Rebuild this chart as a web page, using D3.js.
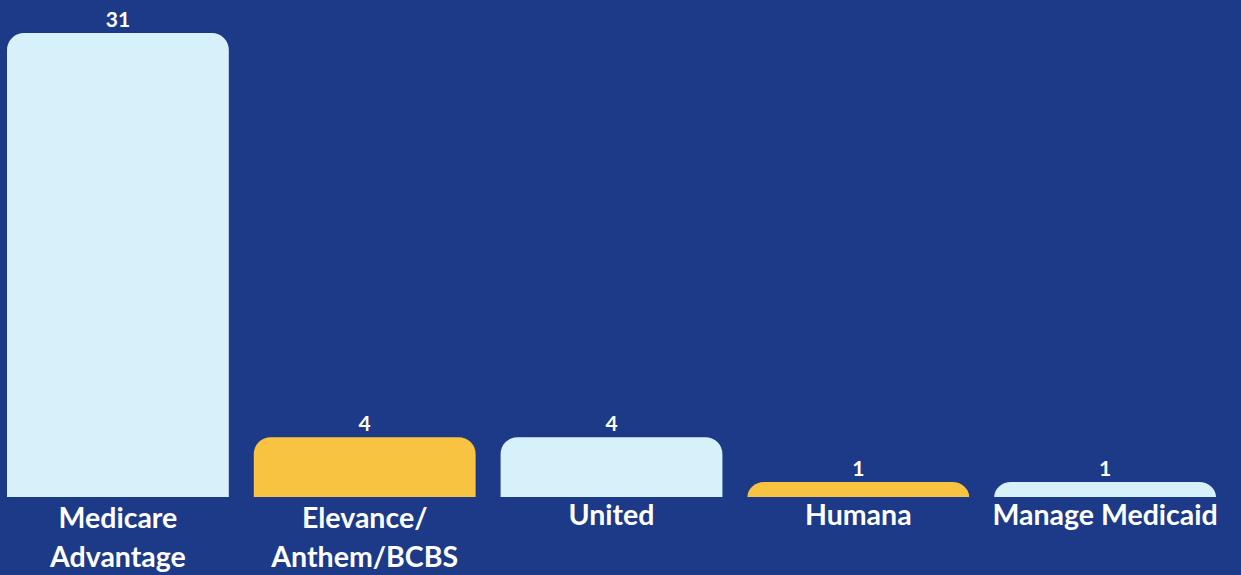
<!DOCTYPE html>
<html>
<head>
<meta charset="utf-8">
<script src="https://cdn.jsdelivr.net/npm/d3@7"></script>
<style>
  html, body { margin: 0; padding: 0; background: #1c3a87; }
  svg { display: block; }
  text { font-family: Lato, "Open Sans", sans-serif; font-weight: 700; fill: #ffffff; }
</style>
</head>
<body>
<div class="container"></div>
<script>
const categories = ["Medicare Advantage", "Elevance/ Anthem/BCBS", "United", "Humana", "Manage Medicaid"];
const labelLines = [["Medicare", "Advantage"], ["Elevance/", "Anthem/BCBS"], ["United"], ["Humana"], ["Manage Medicaid"]];
const values = [31, 4, 4, 1, 1];
const barColors = ["#d7f1fa", "#f8c341", "#d7f1fa", "#f8c341", "#d7f1fa"];

const w = 1241;
const h = 575;
const baseY = 497;
const topY = 33;
const r = 17;

const svg = d3.select(".container")
  .append("svg")
  .attr("width", w)
  .attr("height", h);

svg.append("rect")
  .attr("width", w)
  .attr("height", h)
  .attr("fill", "#1c3a87");

const xScale = d3.scaleBand()
  .domain(categories)
  .range([7, 1216])
  .paddingInner(25 / 247)
  .paddingOuter(0);

const yScale = d3.scaleLinear()
  .domain([0, d3.max(values)])
  .range([baseY, topY]);

// bar with rounded top corners only
function topRounded(x, y, bw, bh) {
  const rx = Math.min(r, bw / 2);
  const ry = Math.min(r, bh);
  return `M${x},${y + bh}` +
    `V${y + ry}` +
    `A${rx},${ry} 0 0 1 ${x + rx},${y}` +
    `H${x + bw - rx}` +
    `A${rx},${ry} 0 0 1 ${x + bw},${y + ry}` +
    `V${y + bh}Z`;
}

const data = categories.map((c, i) => ({ c, v: values[i], color: barColors[i], lines: labelLines[i] }));

svg.selectAll("path.bar")
  .data(data)
  .enter()
  .append("path")
  .attr("class", "bar")
  .attr("fill", d => d.color)
  .attr("d", d => topRounded(xScale(d.c), yScale(d.v), xScale.bandwidth(), baseY - yScale(d.v)));

svg.selectAll("text.value")
  .data(data)
  .enter()
  .append("text")
  .attr("class", "value")
  .attr("x", d => xScale(d.c) + xScale.bandwidth() / 2)
  .attr("y", d => yScale(d.v) - 6)
  .attr("text-anchor", "middle")
  .attr("font-size", 21)
  .text(d => d.v);

const labels = svg.selectAll("text.cat")
  .data(data)
  .enter()
  .append("text")
  .attr("class", "cat")
  .attr("text-anchor", "middle")
  .attr("font-size", 28.5)
  .attr("x", d => xScale(d.c) + xScale.bandwidth() / 2)
  .attr("y", d => d.lines.length > 1 ? baseY + 31 : baseY + 28);

labels.selectAll("tspan")
  .data(d => d.lines.map(l => ({ l, x: xScale(d.c) + xScale.bandwidth() / 2 })))
  .enter()
  .append("tspan")
  .attr("x", t => t.x)
  .attr("dy", (t, i) => i === 0 ? 0 : 39)
  .text(t => t.l);
</script>
</body>
</html>
